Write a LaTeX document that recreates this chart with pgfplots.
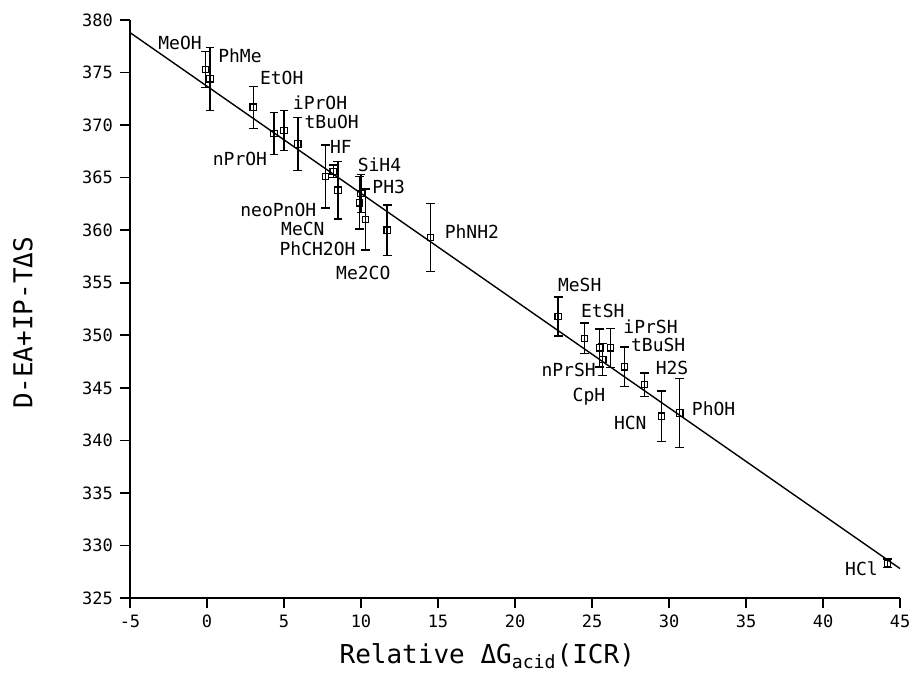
\documentclass[border=0pt]{standalone}
\usepackage{pgfplots}
\pgfplotsset{compat=1.18}
\usepackage{fontspec}
\setmainfont{DejaVu Sans Mono}

% x, y, error
\pgfplotstableread{
x     y      e
-0.1  375.3  1.7
0.2   374.4  3.0
3.0   371.7  2.0
4.35  369.2  2.0
5.0   369.5  1.9
5.9   368.2  2.5
7.7   365.1  3.0
8.2   365.6  0.6
8.5   363.8  2.75
10.0  363.5  1.8
9.9   362.6  2.5
10.3  361.0  2.9
11.7  360.0  2.4
14.5  359.3  3.25
22.8  351.8  1.85
24.5  349.7  1.45
25.5  348.8  1.8
25.7  347.7  1.5
26.2  348.8  1.85
27.1  347.0  1.9
28.4  345.3  1.1
29.5  342.3  2.4
30.7  342.6  3.3
44.2  328.3  0.4
}\acids

\begin{document}
\begin{tikzpicture}
\path[use as bounding box] (-65pt,-38.5pt) rectangle (389.5pt,299pt);
\begin{axis}[
    scale only axis,
    width=385pt, height=289pt,
    xmin=-5, xmax=45,
    ymin=325, ymax=380,
    xtick={-5,0,...,45},
    ytick={325,330,...,380},
    axis lines*=left,
    tick align=outside,
    major tick length=5pt,
    axis line style={black, line width=0.8pt},
    tick style={black, line width=0.8pt},
    /pgf/number format/assume math mode=true,
    tick label style={font=\fontsize{8.5}{10}\selectfont},
    xlabel={Relative ΔG\textsubscript{acid}(ICR)},
    ylabel={D-EA+IP-TΔS},
    label style={font=\fontsize{13}{15}\selectfont},
    xlabel style={at={(axis description cs:0.464,-0.113)}, anchor=base},
    ylabel style={at={(axis description cs:-0.139,0.476)}, anchor=center},
    clip=false,
]

% regression line
\addplot[black, line width=0.7pt] coordinates {(-5,378.8) (45,327.8)};

\addplot[
    black, only marks, mark=square, mark size=1.6pt,
    mark options={line width=0.6pt},
    error bars/.cd, y dir=both, y explicit,
    error bar style={line width=0.7pt},
    error mark options={rotate=90, mark size=2.2pt, line width=0.7pt},
] table[x=x, y=y, y error=e] {\acids};

\begin{scope}[font=\fontsize{9}{10}\selectfont]
\node at (axis cs:-1.75,377.8) {MeOH};
\node at (axis cs:2.14,376.6) {PhMe};
\node at (axis cs:4.85,374.45) {EtOH};
\node at (axis cs:7.34,372.1) {iPrOH};
\node at (axis cs:8.1,370.3) {tBuOH};
\node at (axis cs:2.14,366.8) {nPrOH};
\node at (axis cs:8.7,367.9) {HF};
\node at (axis cs:11.2,366.2) {SiH4};
\node at (axis cs:11.8,364.1) {PH3};
\node[anchor=east] at (axis cs:7.55,361.9) {neoPnOH};
\node[anchor=east] at (axis cs:8.09,360.1) {MeCN};
\node[anchor=east] at (axis cs:10.1,358.2) {PhCH2OH};
\node at (axis cs:10.15,355.9) {Me2CO};
\node at (axis cs:17.2,359.9) {PhNH2};
\node at (axis cs:24.2,354.8) {MeSH};
\node at (axis cs:25.7,352.3) {EtSH};
\node at (axis cs:28.8,350.8) {iPrSH};
\node at (axis cs:29.3,349.1) {tBuSH};
\node[anchor=east] at (axis cs:25.7,346.7) {nPrSH};
\node at (axis cs:24.8,344.2) {CpH};
\node at (axis cs:30.2,346.9) {H2S};
\node[anchor=east] at (axis cs:29.0,341.7) {HCN};
\node at (axis cs:32.9,343.0) {PhOH};
\node at (axis cs:42.5,327.8) {HCl};
\end{scope}
\end{axis}
\end{tikzpicture}
\end{document}
